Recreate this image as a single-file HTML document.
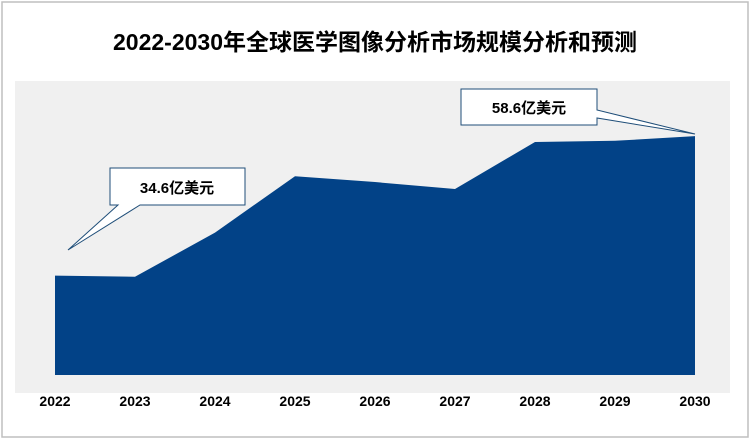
<!DOCTYPE html>
<html><head><meta charset="utf-8"><style>
body{margin:0;background:#fff;}
svg text{font-family:"Liberation Sans","Noto Sans CJK SC",sans-serif;}
</style></head><body>
<svg width="751" height="440" viewBox="0 0 751 440">
<rect x="2" y="2" width="746" height="435" fill="#fff" stroke="#bfbfbf" stroke-width="1.5"/>
<text x="375" y="50" text-anchor="middle" font-size="23" font-weight="bold" fill="#000">2022-2030年全球医学图像分析市场规模分析和预测</text>
<rect x="15" y="81" width="715" height="312" fill="#f0f0f0"/>
<g id="area"></g>
<g id="xaxis"></g>
<g>
<polygon points="110,168 245,168 245,205 140,205 68,250 118,205 110,205" fill="#fff" stroke="#1f4e79" stroke-width="1"/>
<text x="177" y="193" text-anchor="middle" font-size="15" font-weight="bold">34.6亿美元</text>
</g>
<g>
<polygon points="461,89 597,89 597,110 695,134 597,118 597,125 461,125" fill="#fff" stroke="#1f4e79" stroke-width="1"/>
<text x="529" y="113" text-anchor="middle" font-size="15" font-weight="bold">58.6亿美元</text>
</g>
</svg>
<script>
const years=["2022","2023","2024","2025","2026","2027","2028","2029","2030"];
const values=[34.6,34.4,42.0,51.7,50.7,49.5,57.6,57.8,58.6];
const yMin=17.5, yMax=60;
const x=i=>55+i*80;
const y=v=>375-(v-yMin)*(375-128)/(yMax-yMin);
const ns="http://www.w3.org/2000/svg";
let d="M"+x(0)+","+y(yMin);
values.forEach((v,i)=>{d+=" L"+x(i)+","+y(v);});
d+=" L"+x(values.length-1)+","+y(yMin)+" Z";
const p=document.createElementNS(ns,"path");
p.setAttribute("d",d);p.setAttribute("fill","#024287");


document.getElementById("area").appendChild(p);
years.forEach((t,i)=>{
const e=document.createElementNS(ns,"text");
e.setAttribute("x",x(i));e.setAttribute("y",406);e.setAttribute("text-anchor","middle");
e.setAttribute("font-size","14");e.setAttribute("font-weight","bold");
e.textContent=t;


document.getElementById("xaxis").appendChild(e);
});
</script>
</body></html>
